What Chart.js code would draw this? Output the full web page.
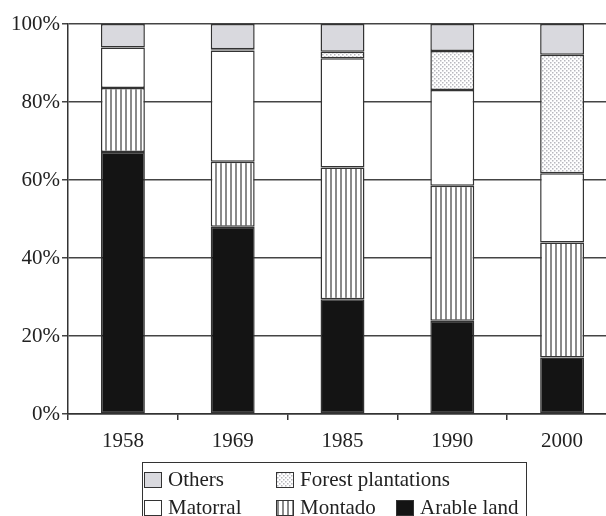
<!DOCTYPE html>
<html>
<head>
<meta charset="utf-8">
<script src="https://cdn.jsdelivr.net/npm/chart.js@4"></script>
<style>
  html, body { margin: 0; padding: 0; background: #fff; overflow: hidden; }
  #wrap { position: relative; width: 617px; height: 516px; }
  #legend {
    position: absolute; left: 142px; top: 462px; width: 385px; height: 70px;
    border: 1.5px solid #333; box-sizing: border-box;
    font-family: "Liberation Serif", serif; font-size: 21px; color: #222;
  }
  .item { position: absolute; display: flex; align-items: center; white-space: nowrap; }
  .item canvas { border: 1.5px solid #333; margin-right: 6px; }
</style>
</head>
<body>
<div id="wrap">
  <canvas id="chart"></canvas>
  <div id="legend"></div>
</div>
<script>
// dados (% da area)
var years = ['1958', '1969', '1985', '1990', '2000'];
var arable = [67.2, 48.0, 29.4, 23.9, 14.5];
var montado = [16.4, 16.7, 33.8, 34.6, 29.5];
var matorral = [10.4, 28.5, 28.0, 24.6, 17.7];
var forest = [0, 0.3, 1.7, 10.0, 30.4];
var others = [6.0, 6.5, 7.1, 6.9, 7.9];
var yTicks = [0, 20, 40, 60, 80, 100];

// padroes de preenchimento
function stripes(ctx) {
  var c = document.createElement('canvas');
  c.width = 5; c.height = 5;
  var g = c.getContext('2d');
  g.fillStyle = '#fff'; g.fillRect(0, 0, 5, 5);
  g.fillStyle = '#8a8a8a'; g.fillRect(0, 0, 2, 5);
  return ctx.createPattern(c, 'repeat');
}
function dots(ctx) {
  var c = document.createElement('canvas');
  c.width = 4; c.height = 4;
  var g = c.getContext('2d');
  g.fillStyle = '#fff'; g.fillRect(0, 0, 4, 4);
  g.fillStyle = '#b8b8be'; g.fillRect(0, 0, 1.5, 1.5); g.fillRect(2, 2, 1.5, 1.5);
  return ctx.createPattern(c, 'repeat');
}

var ctx = document.getElementById('chart').getContext('2d');
var fills = {
  arable: '#141414',
  montado: stripes(ctx),
  matorral: '#ffffff',
  forest: dots(ctx),
  others: '#d9d9de'
};

function ds(label, data, fill) {
  return {
    label: label, data: data, backgroundColor: fill,
    borderColor: '#333', borderWidth: 1.5, borderSkipped: false,
    barPercentage: 0.4, categoryPercentage: 1
  };
}

var serif = { family: '"Liberation Serif", serif', size: 21 };

new Chart(ctx, {
  type: 'bar',
  data: {
    labels: years,
    datasets: [
      ds('Arable land', arable, fills.arable),
      ds('Montado', montado, fills.montado),
      ds('Matorral', matorral, fills.matorral),
      ds('Forest plantations', forest, fills.forest),
      ds('Others', others, fills.others)
    ]
  },
  options: {
    responsive: true,
    maintainAspectRatio: false,
    animation: false,
    layout: { padding: { top: 24, left: 0, right: 0, bottom: 0 } },
    plugins: { legend: { display: false }, tooltip: { enabled: false } },
    scales: {
      x: {
        stacked: true,
        grid: { offset: true, drawOnChartArea: false, drawTicks: true, tickLength: 6, color: '#333', lineWidth: 1.5 },
        border: { color: '#333', width: 1.5 },
        ticks: { font: serif, color: '#222', padding: 9 },
        afterFit: function(s) { s.height = 102; }
      },
      y: {
        stacked: true, min: 0, max: 100,
        afterBuildTicks: function(s) { s.ticks = yTicks.map(function(v) { return { value: v }; }); },
        grid: { color: '#444', lineWidth: 1.5, tickLength: 6 },
        border: { color: '#333', width: 1.5 },
        ticks: { font: serif, color: '#222', padding: 2, callback: function(v) { return v + '%'; } },
        afterFit: function(s) { s.width = 68; }
      }
    }
  }
});

// legenda em duas linhas como na figura
var legendItems = [
  ['Others', fills.others, 0, 0],
  ['Forest plantations', fills.forest, 132, 0],
  ['Matorral', fills.matorral, 0, 28],
  ['Montado', fills.montado, 132, 28],
  ['Arable land', fills.arable, 252, 28]
];
var legend = document.getElementById('legend');
legendItems.forEach(function(it) {
  var d = document.createElement('div');
  d.className = 'item';
  d.style.left = (1 + it[2]) + 'px';
  d.style.top = (4 + it[3]) + 'px';
  var sw = document.createElement('canvas');
  sw.width = 16; sw.height = 14;
  var g = sw.getContext('2d');
  g.fillStyle = typeof it[1] === 'string' ? it[1] : (it[0] === 'Montado' ? stripes(g) : dots(g));
  g.fillRect(0, 0, 16, 14);
  d.appendChild(sw);
  var t = document.createElement('span');
  t.textContent = it[0];
  d.appendChild(t);
  legend.appendChild(d);
});
</script>
</body>
</html>
